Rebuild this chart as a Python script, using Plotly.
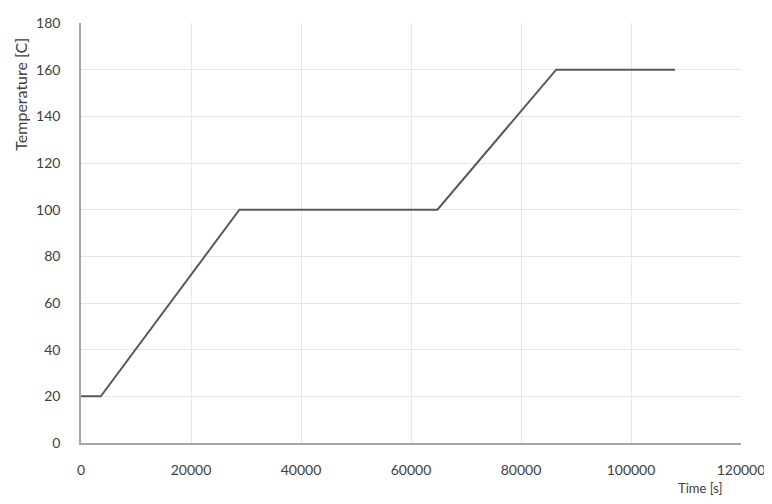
import plotly.graph_objects as go

time_s = [0, 3600, 28800, 64800, 86400, 108000]
temperature_c = [20, 20, 100, 100, 160, 160]

x_ticks = [0, 20000, 40000, 60000, 80000, 100000, 120000]
y_ticks = [0, 20, 40, 60, 80, 100, 120, 140, 160, 180]

fig = go.Figure()
fig.add_trace(go.Scatter(x=time_s, y=temperature_c, mode="lines",
                         line=dict(color="#595959", width=2), showlegend=False))

font = dict(family="Lato, Open Sans, Liberation Sans, sans-serif", size=14, color="#404040")

fig.update_layout(
    width=764, height=488,
    margin=dict(l=73, r=31, t=15, b=53),
    paper_bgcolor="white", plot_bgcolor="white",
    font=font,
    xaxis=dict(range=[0, 120000], tickvals=x_ticks, ticktext=[str(v) for v in x_ticks],
               showgrid=True, gridcolor="#e6e6e6", gridwidth=1,
               showline=True, linecolor="#a6a6a6", linewidth=1.5,
               zeroline=False, ticks="outside", ticklen=13, tickcolor="rgba(0,0,0,0)",
               automargin=False),
    yaxis=dict(range=[0, 180], tickvals=y_ticks, ticktext=[str(v) for v in y_ticks],
               showgrid=True, gridcolor="#e6e6e6", gridwidth=1,
               showline=True, linecolor="#a6a6a6", linewidth=1.5,
               zeroline=False, ticks="outside", ticklen=16, tickcolor="rgba(0,0,0,0)",
               automargin=False),
    annotations=[
        dict(text="Time [s]", xref="paper", yref="paper", x=0.938, y=-0.107,
             xanchor="center", yanchor="middle", showarrow=False,
             font=dict(size=13, color="#404040")),
        dict(text="Temperature [C]", xref="paper", yref="paper", x=-0.092, y=0.83,
             xanchor="center", yanchor="middle", textangle=-90, showarrow=False,
             font=dict(size=16, color="#404040")),
    ],
)

fig.write_html("out.html")
